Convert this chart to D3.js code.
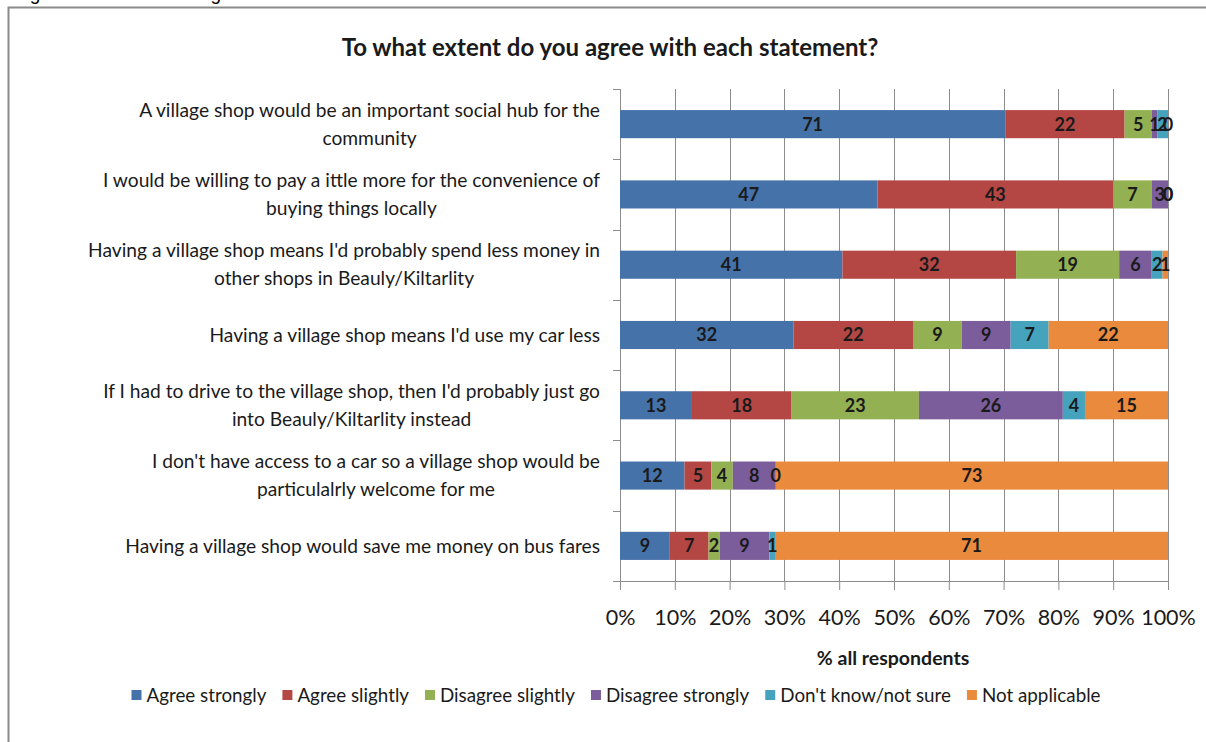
<!DOCTYPE html>
<html>
<head>
<meta charset="utf-8">
<script src="https://cdn.jsdelivr.net/npm/d3@7"></script>
<style>
  html, body { margin: 0; padding: 0; background: #fff; }
  svg { display: block; }
  text { font-family: Lato, "Open Sans", sans-serif; fill: #1a1a1a; }
</style>
</head>
<body>
<svg id="chart" width="1206" height="742"></svg>
<script>
// Statements (each entry is the wrapped label lines)
const categories = [
  ["A village shop would be an important social hub for the", "community"],
  ["I would be willing to pay a ittle more for the convenience of", "buying things locally"],
  ["Having a village shop means I'd probably spend less money in", "other shops in Beauly/Kiltarlity"],
  ["Having a village shop means I'd use my car less"],
  ["If I had to drive to the village shop, then I'd probably just go", "into Beauly/Kiltarlity instead"],
  ["I don't have access to a car so a village shop would be", "particulalrly welcome for me"],
  ["Having a village shop would save me money on bus fares"]
];

const seriesNames = ["Agree strongly", "Agree slightly", "Disagree slightly",
                     "Disagree strongly", "Don't know/not sure", "Not applicable"];

// Percentage of respondents per statement
const agreeStrongly    = [71, 47, 41, 32, 13, 12, 9];
const agreeSlightly    = [22, 43, 32, 22, 18, 5, 7];
const disagreeSlightly = [5, 7, 19, 9, 23, 4, 2];
const disagreeStrongly = [1, 3, 6, 9, 26, 8, 9];
const dontKnow         = [2, 0, 2, 7, 4, 0, 1];
const notApplicable    = [0, 0, 1, 22, 15, 73, 71];

const xTickValues = [0, 0.1, 0.2, 0.3, 0.4, 0.5, 0.6, 0.7, 0.8, 0.9, 1.0];

const seriesColors = ["#4672AA", "#B44744", "#93B052", "#7B5D9C", "#45A3BE", "#EA8A3D"];

const seriesValues = [agreeStrongly, agreeSlightly, disagreeSlightly,
                      disagreeStrongly, dontKnow, notApplicable];

// Rows for the 100% stack: each value divided by its row total
const rows = categories.map((c, i) => {
  const row = { idx: i };
  let total = 0;
  seriesNames.forEach((s, j) => { row[s] = seriesValues[j][i]; total += seriesValues[j][i]; });
  row.total = total;
  return row;
});

const svg = d3.select("#chart");

// Outer frame of the chart
svg.append("rect")
  .attr("x", 8.5).attr("y", 7.5)
  .attr("width", 1260).attr("height", 800)
  .attr("fill", "none").attr("stroke", "#8a8a8a").attr("stroke-width", 2);

// Figure caption above the frame
svg.append("text").attr("x", 14).attr("y", 0)
  .style("font-family", "Liberation Sans, Arial, sans-serif")
  .style("font-size", "19px").style("fill", "#000")
  .text("Figure 5:");
svg.append("text").attr("x", 175).attr("y", 0)
  .style("font-family", "Liberation Sans, Arial, sans-serif")
  .style("font-size", "19px").style("fill", "#000")
  .text("Village statements");

const margin = { left: 620, right: 1168, top: 89, bottom: 581 };

const x = d3.scaleLinear().domain([0, 1]).range([margin.left, margin.right]);
const y = d3.scaleBand().domain(d3.range(categories.length))
  .range([margin.top, margin.bottom]).paddingInner(0.6).paddingOuter(0.3);
const yOuter = d3.scaleBand().domain(d3.range(categories.length))
  .range([margin.top, margin.bottom]);

// Title
svg.append("text")
  .attr("x", 610).attr("y", 56)
  .attr("text-anchor", "middle")
  .style("font-size", "24px").style("font-weight", "bold")
  .text("To what extent do you agree with each statement?");

// Vertical gridlines
svg.append("g").selectAll("line")
  .data(xTickValues.slice(1))
  .join("line")
  .attr("x1", d => Math.round(x(d)) + 0.5).attr("x2", d => Math.round(x(d)) + 0.5)
  .attr("y1", margin.top).attr("y2", margin.bottom)
  .attr("stroke", "#8c8c8c").attr("stroke-width", 1);

// Bottom axis
const xAxis = d3.axisBottom(x)
  .tickValues(xTickValues)
  .tickFormat(d3.format(".0%"))
  .tickSize(9).tickPadding(20);
const gx = svg.append("g")
  .attr("transform", `translate(0,${margin.bottom})`)
  .call(xAxis);
gx.select(".domain").attr("stroke", "#8c8c8c");
gx.selectAll(".tick line").attr("stroke", "#8c8c8c");
gx.selectAll(".tick text")
  .style("font-size", "21.5px").style("font-family", "Lato, sans-serif")
  .attr("fill", "#1a1a1a");

// Left axis line with ticks between categories
const gy = svg.append("g");
gy.append("line")
  .attr("x1", margin.left + 0.5).attr("x2", margin.left + 0.5)
  .attr("y1", margin.top).attr("y2", margin.bottom)
  .attr("stroke", "#8c8c8c");
const boundaries = d3.range(categories.length + 1)
  .map(i => i < categories.length ? yOuter(i) : margin.bottom);
gy.selectAll(".ytick").data(boundaries).join("line")
  .attr("x1", margin.left - 7).attr("x2", margin.left)
  .attr("y1", d => Math.round(d) + 0.5).attr("y2", d => Math.round(d) + 0.5)
  .attr("stroke", "#8c8c8c");

// Stacked bars
const stack = d3.stack()
  .keys(seriesNames)
  .value((d, key) => d[key] / d.total);
const stacked = stack(rows);

const barGroups = svg.append("g").selectAll("g")
  .data(stacked).join("g")
  .attr("fill", (d, i) => seriesColors[i]);

barGroups.selectAll("rect")
  .data(d => d)
  .join("rect")
  .attr("x", d => x(d[0]))
  .attr("width", d => Math.max(0, x(d[1]) - x(d[0])))
  .attr("y", (d, i) => y(i))
  .attr("height", y.bandwidth());

// Data labels
const labelGroup = svg.append("g");
stacked.forEach((layer, j) => {
  labelGroup.selectAll(null)
    .data(layer).join("text")
    .attr("x", d => (x(d[0]) + x(d[1])) / 2)
    .attr("y", (d, i) => y(i) + y.bandwidth() / 2)
    .attr("dy", "0.36em")
    .attr("text-anchor", "middle")
    .style("font-size", "18px").style("font-weight", "bold")
    .text(d => d.data[seriesNames[j]]);
});

// Category labels: block right aligned, lines centred within the block
const catGroup = svg.append("g");
categories.forEach((lines, i) => {
  const cy = yOuter(i) + yOuter.bandwidth() / 2;
  const lineH = 28;
  const g = catGroup.append("g");
  const texts = lines.map((ln, k) => g.append("text")
    .attr("y", cy + (k - (lines.length - 1) / 2) * lineH)
    .attr("dy", "0.35em")
    .attr("text-anchor", "middle")
    .style("font-size", "19.2px")
    .text(ln));
  const w = d3.max(texts, t => t.node().getComputedTextLength());
  texts.forEach(t => t.attr("x", 600 - w / 2));
});

// Axis title
svg.append("text")
  .attr("x", 893).attr("y", 665)
  .attr("text-anchor", "middle")
  .style("font-size", "19.5px").style("font-weight", "bold")
  .text("% all respondents");

// Legend
const legend = svg.append("g");
let lx = 0;
seriesNames.forEach((name, i) => {
  const g = legend.append("g");
  g.append("rect").attr("x", 0).attr("y", -5).attr("width", 10).attr("height", 10)
    .attr("fill", seriesColors[i]);
  const t = g.append("text").attr("x", 15).attr("dy", "0.35em")
    .style("font-size", "18.8px").text(name);
  const w = 15 + t.node().getComputedTextLength();
  g.attr("transform", `translate(${lx},0)`);
  lx += w + 16;
});
const legendWidth = lx - 16;
legend.attr("transform", `translate(${616 - legendWidth / 2},695)`);
</script>
</body>
</html>
